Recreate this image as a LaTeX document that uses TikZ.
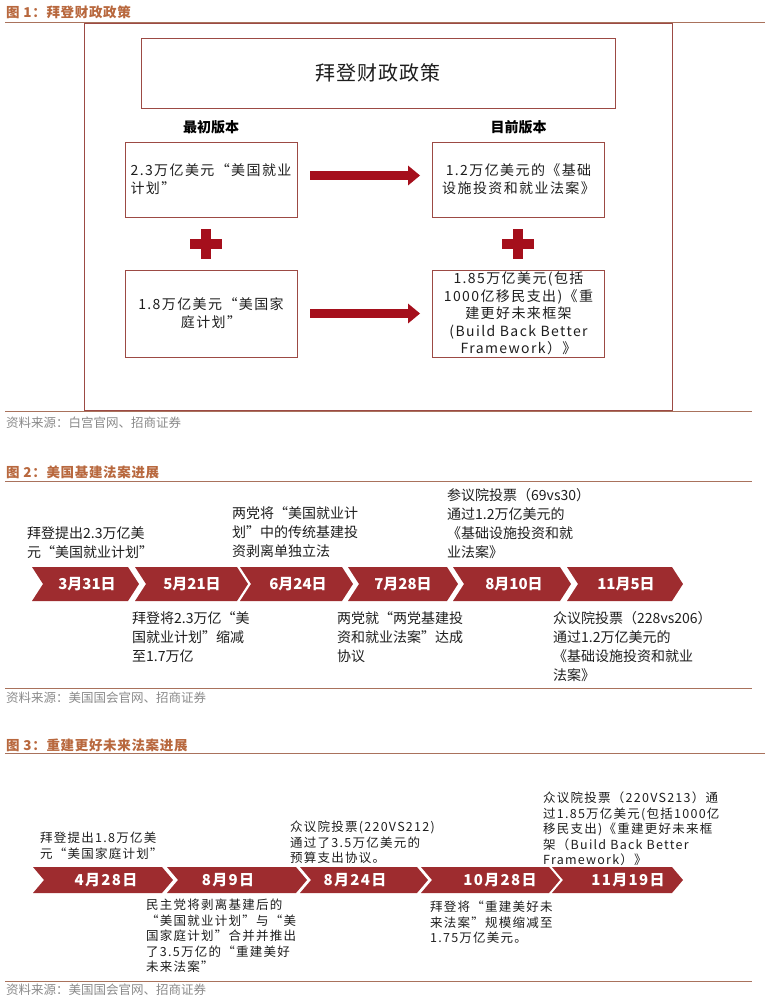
\documentclass[tikz,border=0pt]{standalone}
\usepackage{fontspec}
\setmainfont{Noto Sans CJK SC}
\usepackage{xcolor}
\usetikzlibrary{arrows.meta,positioning}

\definecolor{hdrorange}{HTML}{B8683E}
\definecolor{rulebrown}{HTML}{A9725C}
\definecolor{framered}{HTML}{9C4A44}
\definecolor{arrowred}{HTML}{A50F1C}
\definecolor{chevred}{HTML}{9E2C2F}
\definecolor{srcgray}{HTML}{8A8A8A}
\definecolor{inkblack}{HTML}{1E1E1E}

\begin{document}
\begin{tikzpicture}[x=1pt, y=-1pt,
		hdr/.style={anchor=west, inner sep=0, text=hdrorange, font=\fontsize{13.5}{15}\selectfont\bfseries\addfontfeature{LetterSpace=5}},
		src/.style={anchor=west, inner sep=0, text=srcgray, font=\fontsize{12.5}{14}\selectfont},
		sep/.style={draw=rulebrown, line width=0.9pt},
		planbox/.style={draw=framered, line width=0.8pt, minimum width=172pt, inner sep=0, align=center,
				text=inkblack, font=\fontsize{14}{18}\selectfont\addfontfeature{LetterSpace=10}},
		verlbl/.style={inner sep=0, font=\fontsize{14}{16}\selectfont\bfseries},
		bigarrow/.style={arrowred, line width=9pt, -{Triangle[length=12pt,width=19pt]},
				shorten <=13pt, shorten >=12pt},
		note/.style={anchor=north west, inner sep=0, align=left, text=inkblack,
				font=\fontsize{14}{19}\selectfont},
		notesm/.style={anchor=north west, inner sep=0, align=left, text=inkblack,
				font=\fontsize{12.5}{15.5}\selectfont\addfontfeature{LetterSpace=10}},
		datelbl/.style={inner sep=0, text=white, font=\fontsize{15}{17}\selectfont\bfseries}
		]
		\useasboundingbox (0,0) rectangle (765,1005);

		% figure 1
		\node[hdr] (h1) at (6,12) {图 1：拜登财政政策};
		\draw[sep] (5,22.5) -- (765,22.5);
		\draw[framered, line width=0.8pt] (84,23) rectangle (672,410);
		\node[draw=framered, line width=0.8pt, minimum width=474pt, minimum height=70pt,
			font=\fontsize{20}{22}\selectfont\addfontfeature{LetterSpace=5}, text=inkblack] (title) at (378,73) {拜登财政政策};
		\node[planbox, minimum height=75pt, align=left] (jobs) at (211,179.5) {2.3万亿美元“美国就业\\计划”};
		\node[planbox, minimum height=75pt] (infra) at (518.5,179.5) {1.2万亿美元的《基础\\设施投资和就业法案》};
		\node[planbox, minimum height=87pt] (family) at (211,313.5) {1.8万亿美元“美国家\\庭计划”};
		\node[planbox, minimum height=87pt, font=\fontsize{14}{17.5}\selectfont\addfontfeature{LetterSpace=10}] (bbb) at (518.5,313.5)
			{1.85万亿美元(包括\\1000亿移民支出)《重\\建更好未来框架\\(Build Back Better\\Framework）》};
		\node[verlbl, above=7pt of jobs] (old) {最初版本};
		\node[verlbl, above=7pt of infra] (now) {目前版本};
		\draw[bigarrow] ([yshift=4pt]jobs.east) -- ([yshift=4pt]infra.west);
		\draw[bigarrow] (family.east) -- (bbb.west);
		\foreach \cx in {206,518} {
			\fill[arrowred] (\cx-16,239) rectangle (\cx+16,249);
			\fill[arrowred] (\cx-5,229) rectangle (\cx+5,259);
		}
		\draw[sep] (5,411) -- (752,411);
		\node[src] (s1) at (6,423) {资料来源：白宫官网、招商证券};

		% figure 2
		\node[hdr] (h2) at (6,472) {图 2：美国基建法案进展};
		\draw[sep] (5,481) -- (752,481);
		\foreach \l/\t/\cx/\lab [count=\i] in {32/139/87/3月31日, 135/248/192/5月21日, 240/353/298/6月24日,
				348/458/403/7月28日, 453/571/514/8月10日, 567/683/626/11月5日} {
			\fill[chevred] (\l,567) -- (\t-11,567) -- (\t,584) -- (\t-11,601) -- (\l,601) -- (\l+11,584) -- cycle;
			\node[datelbl] (fa\i) at (\cx,584) {\lab};
		}
		\node[note] (na1) at (27,526.5) {拜登提出2.3万亿美\\元“美国就业计划”};
		\node[note] (na2) at (232,506.5) {两党将“美国就业计\\划”中的传统基建投\\资剥离单独立法};
		\node[note] (na3) at (447,488.5) {参议院投票（69vs30）\\通过1.2万亿美元的\\《基础设施投资和就\\业法案》};
		\node[note] (na4) at (132,611.5) {拜登将2.3万亿“美\\国就业计划”缩减\\至1.7万亿};
		\node[note] (na5) at (337,611.5) {两党就“两党基建投\\资和就业法案”达成\\协议};
		\node[note] (na6) at (553,611.5) {众议院投票（228vs206）\\通过1.2万亿美元的\\《基础设施投资和就业\\法案》};
		\draw[sep] (5,688.5) -- (752,688.5);
		\node[src] (s2) at (6,698) {资料来源：美国国会官网、招商证券};

		% figure 3
		\node[hdr] (h3) at (6,745) {图 3：重建更好未来法案进展};
		\draw[sep] (5,753) -- (765,753);
		\foreach \l/\t/\cx/\lab [count=\i] in {33/173/106/4月28日, 167/307/228/8月9日, 300/428/355/8月24日,
				421/560/500/10月28日, 552/683/628/11月19日} {
			\fill[chevred] (\l,867) -- (\t-11,867) -- (\t,880) -- (\t-11,893) -- (\l,893) -- (\l+11,880) -- cycle;
			\node[datelbl, font=\fontsize{15}{17}\selectfont\bfseries\addfontfeature{LetterSpace=9}] (fb\i) at (\cx,880) {\lab};
		}
		\node[notesm] (nb1) at (40,832) {拜登提出1.8万亿美\\元“美国家庭计划”};
		\node[notesm] (nb2) at (290,821) {众议院投票(220VS212)\\通过了3.5万亿美元的\\预算支出协议。};
		\node[notesm] (nb3) at (543,792) {众议院投票（220VS213）通\\过1.85万亿美元(包括1000亿\\移民支出)《重建更好未来框\\架（Build Back Better\\Framework）》};
		\node[notesm] (nb4) at (146,899) {民主党将剥离基建后的\\“美国就业计划”与“美\\国家庭计划”合并并推出\\了3.5万亿的“重建美好\\未来法案”};
		\node[notesm] (nb5) at (430,901) {拜登将“重建美好未\\来法案”规模缩减至\\1.75万亿美元。};
		\draw[sep] (5,981) -- (752,981);
		\node[src] (s3) at (6,990) {资料来源：美国国会官网、招商证券};
	\end{tikzpicture}
\end{document}
